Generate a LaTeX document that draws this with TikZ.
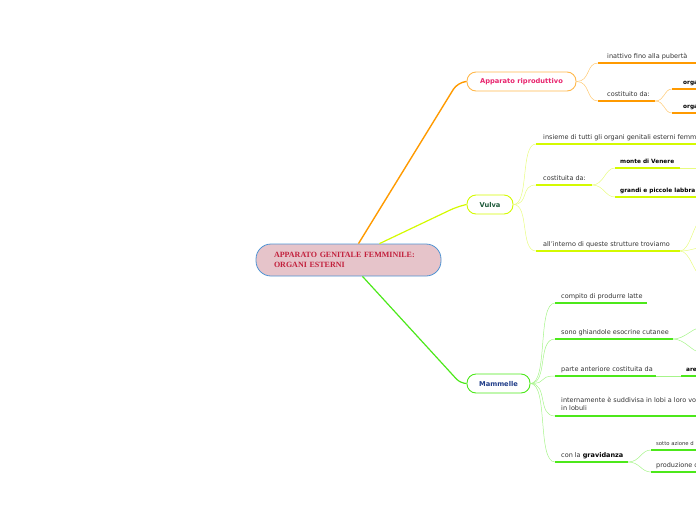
\documentclass[tikz,border=0pt]{standalone}
\usepackage{fontspec}
\setmainfont{DejaVu Sans}
\newfontfamily\titlefont{Liberation Serif}
\definecolor{txt}{HTML}{333333}
\definecolor{rootfill}{HTML}{E6C4CA}
\definecolor{rootline}{HTML}{4F93D3}
\definecolor{roottxt}{HTML}{C2203C}
\definecolor{arancio}{HTML}{FF9A00}
\definecolor{arancioL}{HTML}{FFC870}
\definecolor{giallo}{HTML}{D4FA00}
\definecolor{gialloL}{HTML}{E8FC80}
\definecolor{verde}{HTML}{4CE81A}
\definecolor{verdeL}{HTML}{A6F48A}
\begin{document}
\begin{tikzpicture}[x=1pt,y=-1pt,
    every node/.style={font=\fontsize{6.5}{8}\selectfont,text=txt,inner sep=0pt},
    topic/.style={draw,line width=.9pt,rounded corners=9pt,minimum height=19pt,
        font=\fontsize{6.7}{8}\selectfont\bfseries},
    sub/.style={anchor=base west},
    bsub/.style={anchor=base west,font=\fontsize{5.8}{7}\selectfont\bfseries,text=black},
    ul/.style={line width=1.3pt},
    tie/.style={line width=.5pt}]
    \path[use as bounding box] (0,0) rectangle (696,520);
    \clip (0,0) rectangle (696,520);

    % Nodo centrale e rami principali.
    \node[draw=rootline,fill=rootfill,line width=.8pt,rounded corners=15pt,
        text width=149pt,inner xsep=18pt,minimum height=32pt,align=left,text=roottxt,
        font=\titlefont\fontsize{8}{10.5}\selectfont\bfseries] (ctr) at (348.5,260)
        {APPARATO GENITALE FEMMINILE:\\ORGANI ESTERNI};
    \node[topic,draw=arancio!70,text={rgb,255:red,232;green,37;blue,110},minimum width=109pt]
        (ar) at (521.5,81.5) {Apparato riproduttivo};
    \node[topic,draw=giallo,text={rgb,255:red,30;green,90;blue,58},minimum width=46pt]
        (vu) at (490,204.5) {Vulva};
    \node[topic,draw=verde,text={rgb,255:red,31;green,60;blue,136},minimum width=63pt]
        (ma) at (498.5,383.5) {Mammelle};

    \draw[arancio,line width=1.4pt,rounded corners=8pt]
        ([xshift=10pt]ctr.north) -- ([xshift=-9pt,yshift=-1pt]ar.west) -- (ar.west);
    \draw[giallo,line width=1.2pt,rounded corners=8pt]
        ([xshift=31pt]ctr.north) -- ([xshift=-9pt,yshift=-2pt]vu.west) -- (vu.west);
    \draw[verde,line width=1.2pt,rounded corners=6pt]
        ([xshift=14pt]ctr.south) -- ([xshift=-6pt]ma.west) -- (ma.west);

    % Apparato riproduttivo
    \coordinate (a1) at (598,63);
    \coordinate (a2) at (598,101);
    \coordinate (a2e) at (655,101);
    \coordinate (a21) at (672,89);
    \coordinate (a22) at (672,113);
    \node[sub] (a1t) at (607,58) {inattivo fino alla pubertà};
    \node[sub] (a2t) at (607,96) {costituito da:};
    \node[bsub] (a21t) at (683,84) {orga};
    \node[bsub] (a22t) at (683,108) {orga};
    \draw[arancioL,tie] (ar.east) .. controls +(14,0) and +(-12,0) .. (a1);
    \draw[arancioL,tie] (ar.east) .. controls +(14,0) and +(-12,0) .. (a2);
    \draw[arancioL,tie] (a2e) .. controls +(10,0) and +(-8,0) .. (a21);
    \draw[arancioL,tie] (a2e) .. controls +(10,0) and +(-8,0) .. (a22);
    \draw[arancio,ul] (a1) -- ++(100,0);
    \draw[arancio,ul] (a2) -- (a2e);
    \draw[arancio,ul] (a21) -- ++(30,0);
    \draw[arancio,ul] (a22) -- ++(30,0);

    % Vulva
    \coordinate (v1) at (536,144);
    \coordinate (v2) at (536,185);
    \coordinate (v2e) at (592,185);
    \coordinate (v21) at (615,168);
    \coordinate (v21e) at (680,168);
    \coordinate (v22) at (615,197);
    \coordinate (v3) at (536,251);
    \coordinate (v3e) at (680,251);
    \node[sub] (v1t) at (543,139) {insieme di tutti gli organi genitali esterni femm};
    \node[sub] (v2t) at (543,180) {costituita da:};
    \node[bsub] (v21t) at (620,163) {monte di Venere};
    \node[bsub] (v22t) at (620,192) {grandi e piccole labbra};
    \node[sub] (v3t) at (543,246) {all'interno di queste strutture troviamo};
    \foreach \c in {v1,v2,v3}
        \draw[gialloL,tie] (vu.east) .. controls +(16,0) and +(-16,0) .. (\c);
    \draw[gialloL,tie] (v2e) .. controls +(12,0) and +(-10,0) .. (v21);
    \draw[gialloL,tie] (v2e) .. controls +(12,0) and +(-10,0) .. (v22);
    \draw[gialloL,tie] (v21e) -- ++(20,0);
    \foreach \y in {222,248,274}
        \draw[gialloL,tie] (v3e) .. controls +(10,0) and +(-6,0) .. (700,\y);
    \draw[giallo,ul] (v1) -- ++(164,0);
    \draw[giallo,ul] (v2) -- (v2e);
    \draw[giallo,ul] (v21) -- (v21e);
    \draw[giallo,ul] (v22) -- ++(85,0);
    \draw[giallo,ul] (v3) -- (v3e);

    % Mammelle
    \coordinate (m1) at (555,303);
    \coordinate (m2) at (555,339);
    \coordinate (m2e) at (673,339);
    \coordinate (m3) at (555,376);
    \coordinate (m3e) at (656,376);
    \coordinate (m31) at (681,376);
    \coordinate (m4) at (555,416);
    \coordinate (m5) at (555,462);
    \coordinate (m5e) at (628,462);
    \coordinate (m51) at (651,450);
    \coordinate (m52) at (651,472);
    \node[sub] (m1t) at (561,298) {compito di produrre latte};
    \node[sub] (m2t) at (561,334) {sono ghiandole esocrine cutanee};
    \node[sub] (m3t) at (561,371) {parte anteriore costituita da};
    \node[bsub] (m31t) at (686,371) {are};
    \node[sub,anchor=north west,align=left] (m4t) at (561,397)
        {internamente è suddivisa in lobi a loro vo\\in lobuli};
    \node[sub] (m5t) at (561,457) {con la \textbf{\color{black}gravidanza}};
    \node[sub,font=\fontsize{5.3}{6}\selectfont] (m51t) at (656,445) {sotto azione d};
    \node[sub] (m52t) at (656,467) {produzione d};
    \foreach \c in {m1,m2,m3,m4,m5}
        \draw[verdeL,tie] (ma.east) .. controls +(18,0) and +(-18,0) .. (\c);
    \draw[verdeL,tie] (m2e) .. controls +(12,0) and +(-8,0) .. (700,328);
    \draw[verdeL,tie] (m2e) .. controls +(12,0) and +(-8,0) .. (700,352);
    \draw[verdeL,tie] (m3e) -- (m31);
    \draw[verdeL,tie] (m5e) .. controls +(12,0) and +(-10,0) .. (m51);
    \draw[verdeL,tie] (m5e) .. controls +(12,0) and +(-10,0) .. (m52);
    \draw[verde,ul] (m1) -- (647,303);
    \draw[verde,ul] (m2) -- (m2e);
    \draw[verde,ul] (m3) -- (m3e);
    \draw[verde,ul] (m31) -- ++(20,0);
    \draw[verde,ul] (m4) -- ++(145,0);
    \draw[verde,ul] (m5) -- (m5e);
    \draw[verde,ul] (m51) -- ++(50,0);
    \draw[verde,ul] (m52) -- ++(50,0);
\end{tikzpicture}
\end{document}
